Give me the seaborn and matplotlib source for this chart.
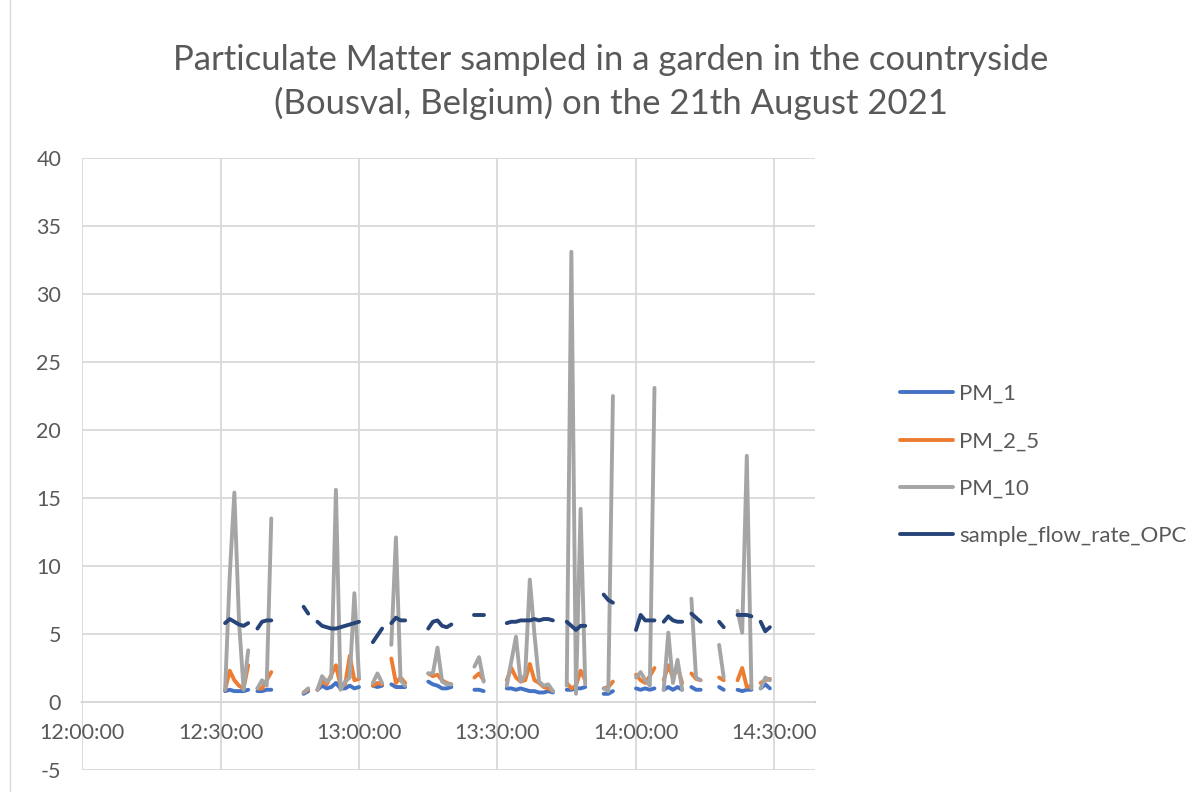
import numpy as np
import pandas as pd
import matplotlib
matplotlib.use("Agg")
import matplotlib.pyplot as plt
import seaborn as sns
from matplotlib.lines import Line2D
from matplotlib.patches import Rectangle

nan = np.nan

# One OPC reading per minute; nan marks minutes without a valid record
sample_times = pd.date_range("2021-08-21 12:31:00", "2021-08-21 14:29:00", freq="1min")

pm_1 = [
    0.8, 0.9, 0.8, 0.8, 0.8, 0.9,            # 12:31-12:36
    nan,
    0.8, 0.8, 0.9, 0.9,                      # 12:38-12:41
    nan, nan, nan, nan, nan, nan,
    0.6, 0.8,                                # 12:48-12:49
    nan,
    0.9, 1.2, 1.0, 1.1, 1.4, 1.0, 1.0, 1.2, 1.0, 1.1,   # 12:51-13:00
    nan, nan,
    1.2, 1.1, 1.2,                           # 13:03-13:05
    nan,
    1.3, 1.1, 1.1, 1.1,                      # 13:07-13:10
    nan, nan, nan, nan,
    1.5, 1.3, 1.2, 1.0, 1.0, 1.1,            # 13:15-13:20
    nan, nan, nan, nan,
    0.9, 0.9, 0.8,                           # 13:25-13:27
    nan, nan, nan, nan,
    1.0, 1.0, 0.9, 1.0, 0.9, 0.8, 0.8, 0.7, 0.7, 0.8, 0.7,   # 13:32-13:42
    nan, nan,
    0.9, 0.9, 1.0, 1.0, 1.1,                 # 13:45-13:49
    nan, nan, nan,
    0.6, 0.6, 0.8,                           # 13:53-13:55
    nan, nan, nan, nan,
    1.0, 0.9, 1.0, 0.9, 1.0,                 # 14:00-14:04
    nan,
    0.9, 1.1, 0.9, 1.1, 0.9,                 # 14:06-14:10
    nan,
    1.1, 0.9, 0.9,                           # 14:12-14:14
    nan, nan, nan,
    1.1, 0.9,                                # 14:18-14:19
    nan, nan,
    0.9, 0.8, 0.9, 0.9,                      # 14:22-14:25
    nan,
    1.0, 1.3, 1.0,                           # 14:27-14:29
]

pm_2_5 = [
    0.9, 2.3, 1.6, 1.2, 1.0, 2.7,
    nan,
    1.0, 1.0, 1.6, 2.2,
    nan, nan, nan, nan, nan, nan,
    0.7, 0.9,
    nan,
    0.9, 1.6, 1.3, 2.0, 2.7, 1.2, 1.3, 3.4, 1.6, 1.7,
    nan, nan,
    1.2, 1.4, 1.3,
    nan,
    3.2, 1.4, 1.8, 1.4,
    nan, nan, nan, nan,
    2.1, 1.9, 2.0, 1.6, 1.4, 1.3,
    nan, nan, nan, nan,
    1.8, 2.1, 1.6,
    nan, nan, nan, nan,
    1.6, 2.5, 1.8, 1.5, 1.6, 2.8, 1.6, 1.4, 1.1, 1.0, 0.8,
    nan, nan,
    1.4, 1.0, 1.2, 2.3, 1.6,
    nan, nan, nan,
    1.0, 1.1, 1.5,
    nan, nan, nan, nan,
    2.0, 1.6, 1.4, 1.9, 2.5,
    nan,
    1.6, 2.7, 1.8, 2.6, 1.4,
    nan,
    2.1, 1.7, 1.6,
    nan, nan, nan,
    1.8, 1.6,
    nan, nan,
    1.6, 2.5, 1.1, 1.2,
    nan,
    1.4, 1.6, 1.7,
]

pm_10 = [
    0.9, 9.3, 15.4, 6.0, 0.9, 3.8,
    nan,
    1.0, 1.6, 1.2, 13.5,
    nan, nan, nan, nan, nan, nan,
    0.7, 1.0,
    nan,
    0.9, 1.9, 1.5, 1.8, 15.6, 0.9, 1.5, 1.8, 8.0, 1.8,
    nan, nan,
    1.4, 2.1, 1.4,
    nan,
    4.2, 12.1, 1.6, 1.2,
    nan, nan, nan, nan,
    2.1, 2.1, 4.0, 1.5, 1.3, 1.3,
    nan, nan, nan, nan,
    2.6, 3.3, 1.5,
    nan, nan, nan, nan,
    1.2, 3.0, 4.8, 1.5, 2.0, 9.0, 5.0, 1.5, 1.2, 1.3, 0.8,
    nan, nan,
    1.2, 33.1, 0.6, 14.2, 1.3,
    nan, nan, nan,
    1.0, 0.8, 22.5,
    nan, nan, nan, nan,
    1.8, 2.2, 1.6, 1.2, 23.1,
    nan,
    0.9, 5.1, 1.4, 3.1, 0.9,
    nan,
    7.6, 1.8, 1.6,
    nan, nan, nan,
    4.2, 1.8,
    nan, nan,
    6.7, 5.1, 18.1, 1.0,
    nan,
    1.0, 1.8, 1.6,
]

sample_flow_rate_opc = [
    5.8, 6.1, 5.9, 5.7, 5.6, 5.8,
    nan,
    5.4, 5.9, 6.0, 6.0,
    nan, nan, nan, nan, nan, nan,
    7.0, 6.5,
    nan,
    5.9, 5.6, 5.5, 5.4, 5.4, 5.5, 5.6, 5.7, 5.8, 5.9,
    nan, nan,
    4.4, 4.9, 5.4,
    nan,
    5.8, 6.2, 6.0, 6.0,
    nan, nan, nan, nan,
    5.4, 5.9, 6.0, 5.6, 5.5, 5.7,
    nan, nan, nan, nan,
    6.4, 6.4, 6.4,
    nan, nan, nan, nan,
    5.8, 5.9, 5.9, 6.0, 6.0, 6.0, 6.1, 6.0, 6.1, 6.1, 6.0,
    nan, nan,
    5.9, 5.6, 5.3, 5.6, 5.6,
    nan, nan, nan,
    7.9, 7.5, 7.3,
    nan, nan, nan, nan,
    5.3, 6.4, 6.0, 6.0, 6.0,
    nan,
    5.9, 6.3, 6.0, 5.9, 5.9,
    nan,
    6.5, 6.2, 5.9,
    nan, nan, nan,
    5.9, 5.5,
    nan, nan,
    6.4, 6.4, 6.4, 6.3,
    nan,
    5.9, 5.2, 5.5,
]

series_names = ["PM_1", "PM_2_5", "PM_10", "sample_flow_rate_OPC"]
series_values = [pm_1, pm_2_5, pm_10, sample_flow_rate_opc]
series_colors = ["#4472C4", "#ED7D31", "#A5A5A5", "#264478"]

x_tick_labels = ["12:00:00", "12:30:00", "13:00:00", "13:30:00", "14:00:00", "14:30:00"]
y_ticks = list(range(-5, 41, 5))

title_text = ("Particulate Matter sampled in a garden in the countryside\n"
              "(Bousval, Belgium) on the 21th August 2021")

# ---- long table, one run id per unbroken stretch of readings ----
noon = pd.Timestamp("2021-08-21 12:00:00")
minutes = (sample_times - noon).total_seconds() / 60.0
frames = []
for name, vals in zip(series_names, series_values):
    v = np.asarray(vals, dtype=float)
    run = np.cumsum(np.isnan(v))
    df = pd.DataFrame({"minutes": minutes, "value": v, "series": name,
                       "unit": [f"{name}_{r}" for r in run]})
    frames.append(df.dropna(subset=["value"]))
long_df = pd.concat(frames, ignore_index=True)

# ---- figure ----
sns.set_theme(style="white")
plt.rcParams["font.family"] = ["Lato", "DejaVu Sans"]
text_color = "#595959"
grid_color = "#D9D9D9"
line_width = 2.8

fig = plt.figure(figsize=(12, 7.92), dpi=100)
ax = fig.add_axes([82 / 1200, 1 - 770 / 792, (815 - 82) / 1200, (770 - 158) / 792])

sns.lineplot(data=long_df, x="minutes", y="value", hue="series",
             hue_order=series_names, palette=series_colors,
             units="unit", estimator=None, linewidth=line_width, legend=False,
             solid_capstyle="round", solid_joinstyle="round", ax=ax)

ax.set_xlim(0, (815 - 82) / (1385 / 300))
ax.set_ylim(-5, 40)
ax.set_xticks([0, 30, 60, 90, 120, 150])
ax.set_xticklabels(x_tick_labels)
ax.set_yticks(y_ticks)
ax.set_yticklabels([str(t) for t in y_ticks])
ax.set_xlabel("")
ax.set_ylabel("")

ax.grid(True, color=grid_color, linewidth=1.3)
ax.set_axisbelow(True)
for side in ["top", "right", "left"]:
    ax.spines[side].set_visible(False)
ax.spines["bottom"].set_position(("data", 0))
ax.spines["bottom"].set_color("#BFBFBF")
ax.spines["bottom"].set_linewidth(1.3)
ax.spines["bottom"].set_zorder(0.5)

ax.tick_params(axis="both", length=0, labelsize=15.5, colors=text_color)
ax.tick_params(axis="x", pad=15)
ax.tick_params(axis="y", pad=15)

# ---- title ----
fig.text(611 / 1200, 1 - 82 / 792, title_text, ha="center", va="center",
         fontsize=25, color=text_color, linespacing=1.38)

# ---- legend ----
handles = [Line2D([0], [0], color=c, linewidth=line_width, solid_capstyle="round")
           for c in series_colors]
ax.legend(handles, series_names, loc="center left",
          bbox_to_anchor=(880 / 1200, 1 - 465 / 792), bbox_transform=fig.transFigure,
          frameon=False, fontsize=16, labelcolor=text_color,
          handlelength=2.4, handletextpad=0.25, labelspacing=1.23)

# chart-area frame
fig.patches.append(Rectangle((10 / 1200, -0.01), 1.1, 1.1, transform=fig.transFigure,
                             fill=False, edgecolor=grid_color, linewidth=1.0))

fig.savefig("out.png", dpi=100, facecolor="white")
